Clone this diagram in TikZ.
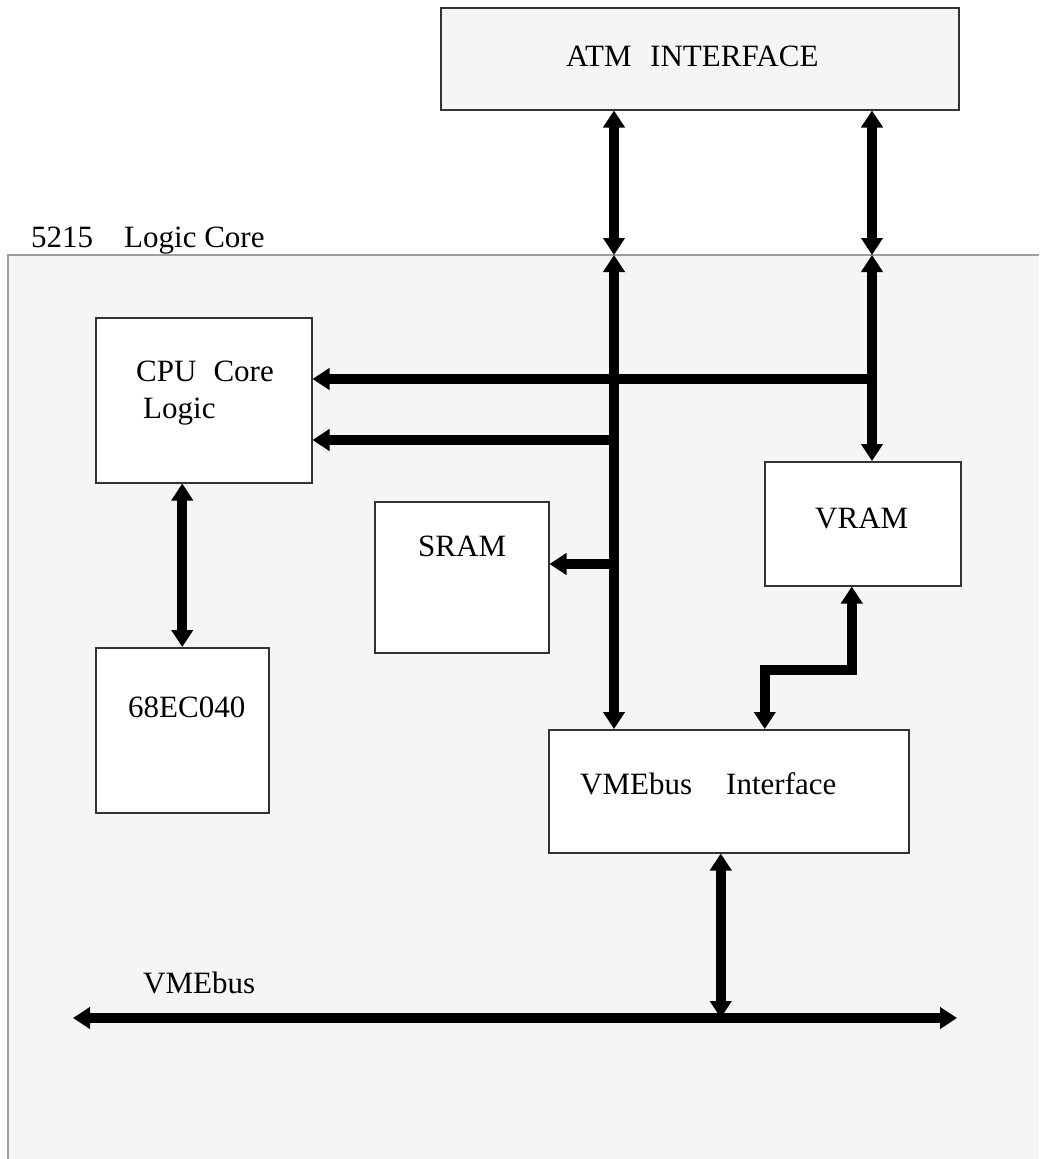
\documentclass[tikz,border=0pt]{standalone}
\usepackage{fontspec}
\setmainfont{Liberation Serif}
\usepackage{tikz}
\usetikzlibrary{calc,arrows.meta,positioning}

\definecolor{corefill}{HTML}{F5F5F5}
\definecolor{coreline}{HTML}{9E9E9E}
\definecolor{boxline}{HTML}{333333}

\begin{document}
\begin{tikzpicture}[x=1pt, y=-1pt, >={Triangle[width=21pt,length=17pt]},
    blk/.style={draw=boxline, line width=1.5pt, fill=white, anchor=north west, inner sep=0pt},
    lbl/.style={anchor=base west, inner sep=0pt, font=\fontsize{31}{34}\selectfont},
    bus/.style={line width=10pt, <->},
    feed/.style={line width=10pt, ->}]
        \useasboundingbox (0,0) rectangle (1039,1159);

        % Logic core area (only top and left edges show)
        \fill[corefill] (8,255) rectangle (1039,1159);
        \draw[coreline, line width=1.5pt] (1039,255) -- (8,255) -- (8,1159);
        \node[lbl] (corelbl) at (31,247) {5215\hspace{1em}Logic Core};

        % Blocks
        \node[blk, fill=corefill, minimum width=518pt, minimum height=102pt] (atm) at (440,7) {};
        \node[blk, minimum width=216pt, minimum height=165pt] (cpu) at (95,317) {};
        \node[blk, minimum width=173pt, minimum height=165pt] (m68) at (95,647) {};
        \node[blk, minimum width=174pt, minimum height=151pt] (sram) at (374,501) {};
        \node[blk, minimum width=196pt, minimum height=124pt] (vram) at (764,461) {};
        \node[blk, minimum width=360pt, minimum height=123pt] (vmei) at (548,729) {};

        % Block texts
        \node[lbl] (atmtxt) at (566,66) {ATM\hspace{0.6em}INTERFACE};
        \node[lbl] (cputxt) at (136,381) {CPU\hspace{0.55em}Core};
        \node[lbl] (cputxtb) at (143,418) {Logic};
        \node[lbl] (m68txt) at (128,717) {68EC040};
        \node[lbl] (sramtxt) at (418,556) {SRAM};
        \node[lbl] (vramtxt) at (815,528) {VRAM};
        \node[lbl] (vmeitxt) at (580,794) {VMEbus\hspace{1.1em}Interface};
        \node[lbl] (vmebustxt) at (143,993) {VMEbus};

        % Bus entry points on the core edge
        \coordinate (ctopA) at (614,255);
        \coordinate (ctopB) at (872,255);

        % ATM interface to the core
        \draw[bus] (atm.south -| ctopA) -- (ctopA);
        \draw[bus] (atm.south -| ctopB) -- (ctopB);

        % Internal buses
        \draw[bus] (ctopA) -- (ctopA |- vmei.north);
        \draw[bus] (ctopB) -- (ctopB |- vram.north);

        % Taps towards CPU and SRAM
        \coordinate (jB) at (872,379);
        \coordinate (jA) at (614,440);
        \coordinate (jS) at (614,564);
        \draw[feed] (jB) -- (jB -| cpu.east);
        \draw[feed] (jA) -- (jA -| cpu.east);
        \draw[feed] (jS) -- (jS -| sram.east);

        % CPU to processor
        \draw[bus] (m68.north |- cpu.south) -- (m68.north);

        % VRAM to VMEbus interface
        \draw[bus, line join=miter] ([xshift=-11pt]vram.south) -- ++(0,83) -| ([xshift=36pt]vmei.north);

        % VMEbus
        \coordinate (vbL) at (73,1018);
        \coordinate (vbR) at (957,1018);
        \draw[bus] (vbL) -- (vbR);
        \draw[bus] ([xshift=-8pt]vmei.south) -- ([xshift=-8pt]vmei.south |- vbL);
    \end{tikzpicture}
\end{document}
